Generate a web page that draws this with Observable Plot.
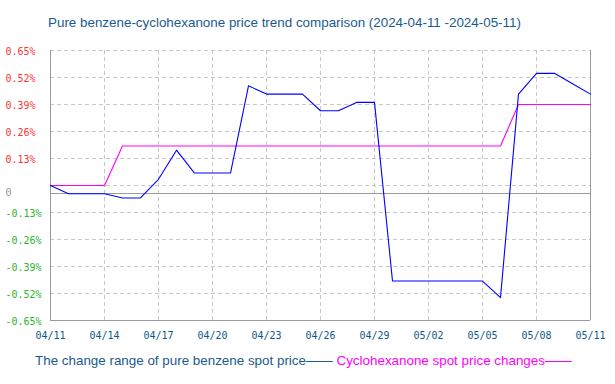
<!DOCTYPE html>
<html>
<head>
<meta charset="utf-8">
<script src="https://cdn.jsdelivr.net/npm/d3@7"></script>
<script src="https://cdn.jsdelivr.net/npm/@observablehq/plot@0.6"></script>
<style>
  html, body { margin: 0; padding: 0; background: #fff; }
  #wrap { position: relative; width: 615px; height: 384px; overflow: hidden; }
  #title { position: absolute; left: 48px; top: 15px; font: 13.4px "Liberation Sans", Arial, sans-serif; color: #1a5b8f; white-space: nowrap; line-height: 15px; }
  #legend { position: absolute; left: 35px; top: 353px; font: 13.4px "Liberation Sans", Arial, sans-serif; white-space: nowrap; line-height: 15px; }
  #chart { position: absolute; left: 0; top: 0; }
</style>
</head>
<body>
<div id="wrap">
  <div id="chart"></div>
  <div id="title">Pure benzene-cyclohexanone price trend comparison (2024-04-11 -2024-05-11)</div>
  <div id="legend"><span style="color:#1a5b8f">The change range of pure benzene spot price——</span> <span style="color:#ff00ff">Cyclohexanone spot price changes——</span></div>
</div>
<script>
// ---- data ----
const dates = ["04/11","04/12","04/13","04/14","04/15","04/16","04/17","04/18","04/19","04/20",
  "04/21","04/22","04/23","04/24","04/25","04/26","04/27","04/28","04/29","04/30",
  "05/01","05/02","05/03","05/04","05/05","05/06","05/07","05/08","05/09","05/10","05/11"];
const benzene = [0.00,-0.04,-0.04,-0.04,-0.06,-0.06,0.03,0.17,0.06,0.06,
  0.06,0.48,0.44,0.44,0.44,0.36,0.36,0.40,0.40,-0.46,
  -0.46,-0.46,-0.46,-0.46,-0.46,-0.54,0.44,0.54,0.54,0.49,0.44];
const cyclohexanone = [0,0,0,0,0.19,0.19,0.19,0.19,0.19,0.19,
  0.19,0.19,0.19,0.19,0.19,0.19,0.19,0.19,0.19,0.19,
  0.19,0.19,0.19,0.19,0.19,0.19,0.39,0.39,0.39,0.39,0.39];
const xTickLabels = ["04/11","04/14","04/17","04/20","04/23","04/26","04/29","05/02","05/05","05/08","05/11"];
const yPosTicks = [0.65,0.52,0.39,0.26,0.13];
const yNegTicks = [-0.13,-0.26,-0.39,-0.52,-0.65];
const yGrid = [0.65,0.52,0.39,0.26,0.13,0,-0.13,-0.26,-0.39,-0.52,-0.65];
const zeroLine = -0.0385; // where the solid "0" line is drawn in the original

// ---- build ----
const parse = s => d3.utcParse("%Y/%m/%d")("2024/" + s);
const benzData = dates.map((d, i) => ({date: parse(d), v: benzene[i]}));
const cycData = dates.map((d, i) => ({date: parse(d), v: cyclohexanone[i]}));
const xTicks = xTickLabels.map(parse);
const x0 = parse(dates[0]), x1 = parse(dates[dates.length - 1]);
const mono = "'DejaVu Sans Mono', monospace";

const chart = Plot.plot({
  width: 615, height: 384,
  marginLeft: 50, marginRight: 25, marginTop: 50, marginBottom: 64,
  x: {type: "utc", domain: [x0, x1], axis: null},
  y: {domain: [-0.65, 0.65], axis: null},
  style: {background: "transparent", overflow: "visible"},
  marks: [
    Plot.ruleY(yGrid, {stroke: "#c8c8c8", strokeDasharray: "4,3"}),
    Plot.ruleX(xTicks, {stroke: "#c8c8c8", strokeDasharray: "4,3"}),
    Plot.ruleY([zeroLine], {stroke: "#9a9a9a"}),
    Plot.ruleY([-0.65], {stroke: "#9a9a9a"}),
    Plot.ruleX([x0, x1], {stroke: "#9a9a9a"}),
    Plot.line(cycData, {x: "date", y: "v", stroke: "#ff00ff", strokeWidth: 1.1}),
    Plot.line(benzData, {x: "date", y: "v", stroke: "#0000ff", strokeWidth: 1.1}),
    Plot.text(yPosTicks, {y: d => d, text: d => d.toFixed(2) + "%", frameAnchor: "left", textAnchor: "start", dx: -45, dy: 1, fill: "#ff3333", fontFamily: mono, fontSize: 10}),
    Plot.text(yNegTicks, {y: d => d, text: d => d.toFixed(2) + "%", frameAnchor: "left", textAnchor: "start", dx: -45, dy: 1, fill: "#2db52d", fontFamily: mono, fontSize: 10}),
    Plot.text([zeroLine], {y: d => d, text: () => "0", frameAnchor: "left", textAnchor: "start", dx: -45, dy: -1, fill: "#999999", fontFamily: mono, fontSize: 10}),
    Plot.text(xTickLabels, {x: d => parse(d), text: d => d, frameAnchor: "bottom", dy: 18, fill: "#0c5a8a", fontFamily: mono, fontSize: 10})
  ]
});
document.getElementById("chart").appendChild(chart);
</script>
</body>
</html>
